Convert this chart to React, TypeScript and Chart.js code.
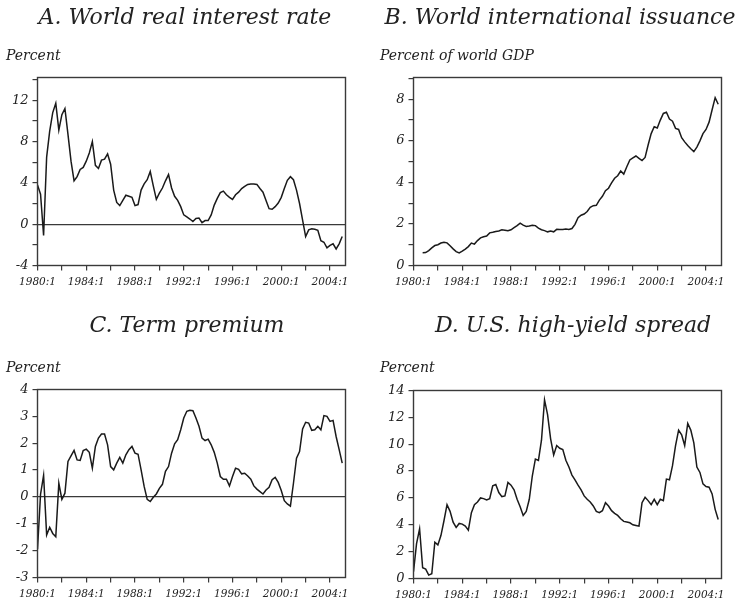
import React, { useEffect, useRef } from "react";
import { Chart, registerables } from "chart.js";

Chart.register(...registerables);

// ---- axis constants ----
const X_MIN = 1980;
const X_MAX = 2005.27;
const X_TICK_STEP = 2;
const X_LABEL_EVERY = 4;

// ---- data (quarterly, index 0 = 1980:1) ----
const realRateStart = 0;
const realRate = [
  3.8, 2.9, -1.1, 6.5, 9.0, 10.8, 11.7, 9.1, 10.6, 11.2,
  8.7, 6.1, 4.2, 4.6, 5.3, 5.5, 6.1, 6.9, 8.0, 5.7,
  5.4, 6.2, 6.3, 6.8, 5.8, 3.3, 2.1, 1.8, 2.3, 2.8,
  2.7, 2.6, 1.8, 1.9, 3.3, 3.9, 4.3, 5.1, 3.7, 2.4,
  3.0, 3.5, 4.2, 4.8, 3.5, 2.7, 2.3, 1.7, 0.9, 0.7,
  0.5, 0.25, 0.55, 0.6, 0.15, 0.35, 0.35, 0.9, 1.85, 2.5,
  3.05, 3.2, 2.85, 2.6, 2.4, 2.85, 3.1, 3.45, 3.65, 3.85,
  3.9, 3.9, 3.85, 3.45, 3.1, 2.3, 1.5, 1.45, 1.7, 2.05,
  2.6, 3.45, 4.25, 4.6, 4.3, 3.3, 2.0, 0.4, -1.2, -0.55,
  -0.45, -0.5, -0.6, -1.6, -1.75, -2.3, -2.05, -1.9, -2.4, -1.9,
  -1.2,
];

const issuanceStart = 3; // 1980:4
const issuance = [
  0.61, 0.62, 0.72, 0.85, 0.96, 1.0, 1.08, 1.12, 1.09, 0.95,
  0.8, 0.67, 0.61, 0.69, 0.79, 0.91, 1.08, 1.03, 1.2, 1.33,
  1.38, 1.42, 1.57, 1.6, 1.64, 1.66, 1.72, 1.7, 1.67, 1.72,
  1.82, 1.92, 2.04, 1.94, 1.88, 1.9, 1.94, 1.92, 1.8, 1.72,
  1.68, 1.62, 1.66, 1.62, 1.74, 1.73, 1.73, 1.76, 1.73, 1.78,
  1.98, 2.3, 2.42, 2.48, 2.6, 2.8, 2.88, 2.9, 3.15, 3.33,
  3.6, 3.72, 3.98, 4.2, 4.32, 4.55, 4.4, 4.75, 5.08, 5.18,
  5.27, 5.16, 5.05, 5.2, 5.8, 6.35, 6.68, 6.62, 7.0, 7.32,
  7.38, 7.05, 6.95, 6.6, 6.55, 6.15, 5.95, 5.78, 5.62, 5.48,
  5.7, 6.0, 6.35, 6.55, 6.9, 7.5, 8.08, 7.76,
];

const termPremiumStart = 0;
const termPremium = [
  -1.95, 0.1, 0.8, -1.42, -1.13, -1.36, -1.48, 0.51, -0.09, 0.14,
  1.32, 1.53, 1.73, 1.38, 1.36, 1.73, 1.78, 1.66, 1.07, 1.88,
  2.19, 2.34, 2.34, 1.94, 1.13, 1.01, 1.26, 1.47, 1.26, 1.57,
  1.76, 1.88, 1.63, 1.59, 1.01, 0.39, -0.09, -0.17, -0.01, 0.11,
  0.32, 0.47, 0.95, 1.13, 1.63, 1.98, 2.13, 2.5, 2.94, 3.19,
  3.23, 3.21, 2.94, 2.63, 2.19, 2.1, 2.15, 1.94, 1.66, 1.26,
  0.76, 0.66, 0.66, 0.41, 0.76, 1.07, 1.03, 0.86, 0.88, 0.78,
  0.66, 0.41, 0.29, 0.2, 0.11, 0.26, 0.36, 0.64, 0.73, 0.54,
  0.24, -0.14, -0.26, -0.34, 0.51, 1.44, 1.69, 2.53, 2.78, 2.75,
  2.48, 2.5, 2.63, 2.5, 3.03, 3.0, 2.81, 2.85, 2.25, 1.76,
  1.26,
];

const hySpreadStart = 0;
const hySpread = [
  0.5, 2.6, 3.7, 0.8, 0.7, 0.25, 0.35, 2.7, 2.5, 3.2,
  4.3, 5.5, 5.0, 4.2, 3.8, 4.1, 4.05, 3.9, 3.6, 4.9,
  5.5, 5.7, 6.0, 5.95, 5.85, 5.95, 6.9, 7.0, 6.4, 6.1,
  6.15, 7.15, 6.95, 6.6, 5.9, 5.35, 4.7, 5.0, 5.9, 7.65,
  8.9, 8.8, 10.3, 13.3, 12.2, 10.4, 9.2, 9.9, 9.7, 9.6,
  8.8, 8.3, 7.7, 7.35, 6.95, 6.6, 6.15, 5.9, 5.7, 5.4,
  5.0, 4.9, 5.05, 5.65, 5.4, 5.05, 4.85, 4.7, 4.45, 4.25,
  4.2, 4.15, 4.0, 3.95, 3.9, 5.65, 6.05, 5.8, 5.5, 5.9,
  5.5, 5.9, 5.8, 7.4, 7.35, 8.4, 9.9, 11.05, 10.7, 9.9,
  11.55, 11.05, 10.1, 8.3, 7.9, 7.05, 6.85, 6.8, 6.3, 5.15,
  4.4,
];

// ---- styling ----
const FONT = "'DejaVu Serif', serif";
const INK = "#222";
const AXIS_INK = "#3a3a3a";
const CANVAS_W = 372;
const CANVAS_H = 302;
const XAXIS_H = 30;

type Panel = {
  key: string;
  title: string;
  unit: string;
  canvasLeft: number;
  canvasTop: number;
  area: { l: number; t: number; r: number; b: number };
  values: number[];
  start: number;
  yMin: number;
  yMax: number;
  yStep: number;
  yLabelEvery: number;
  zero: boolean;
  titleX: number;
  titleTop: number;
  unitLeft: number;
  unitTop: number;
};

const panels: Panel[] = [
  {
    key: "A",
    title: "A. World real interest rate",
    unit: "Percent",
    canvasLeft: 0,
    canvasTop: 0,
    area: { l: 37.5, t: 77.5, r: 345.5, b: 265.5 },
    values: realRate,
    start: realRateStart,
    yMin: -4,
    yMax: 14.2,
    yStep: 2,
    yLabelEvery: 4,
    zero: true,
    titleX: 185,
    titleTop: 6,
    unitLeft: 6,
    unitTop: 48,
  },
  {
    key: "B",
    title: "B. World international issuance",
    unit: "Percent of world GDP",
    canvasLeft: 372,
    canvasTop: 0,
    area: { l: 413.5, t: 77.5, r: 721.5, b: 265.5 },
    values: issuance,
    start: issuanceStart,
    yMin: 0,
    yMax: 9.05,
    yStep: 1,
    yLabelEvery: 2,
    zero: false,
    titleX: 560,
    titleTop: 6,
    unitLeft: 380,
    unitTop: 48,
  },
  {
    key: "C",
    title: "C. Term premium",
    unit: "Percent",
    canvasLeft: 0,
    canvasTop: 302,
    area: { l: 37.5, t: 389.5, r: 345.5, b: 577.5 },
    values: termPremium,
    start: termPremiumStart,
    yMin: -3,
    yMax: 4,
    yStep: 1,
    yLabelEvery: 1,
    zero: true,
    titleX: 187,
    titleTop: 314,
    unitLeft: 6,
    unitTop: 360,
  },
  {
    key: "D",
    title: "D. U.S. high-yield spread",
    unit: "Percent",
    canvasLeft: 372,
    canvasTop: 302,
    area: { l: 413.5, t: 390.5, r: 721.5, b: 578.5 },
    values: hySpread,
    start: hySpreadStart,
    yMin: 0,
    yMax: 14,
    yStep: 2,
    yLabelEvery: 2,
    zero: false,
    titleX: 573,
    titleTop: 314,
    unitLeft: 380,
    unitTop: 360,
  },
];

const boxPlugin = {
  id: "plotBox",
  afterDraw(chart: any) {
    const { ctx, chartArea: a } = chart;
    ctx.save();
    ctx.strokeStyle = AXIS_INK;
    ctx.lineWidth = 1.4;
    ctx.strokeRect(a.left, a.top, a.right - a.left, a.bottom - a.top);
    ctx.restore();
  },
};

function PanelChart({ p }: { p: Panel }) {
  const ref = useRef<HTMLCanvasElement>(null);
  useEffect(() => {
    const canvas = ref.current;
    if (!canvas) return;
    const a = p.area;
    const points = p.values.map((v, i) => ({ x: X_MIN + (p.start + i) / 4, y: v }));
    const chart = new Chart(canvas, {
      type: "line",
      data: {
        datasets: [
          {
            data: points,
            borderColor: "#1a1a1a",
            borderWidth: 1.5,
            pointRadius: 0,
            tension: 0,
            fill: false,
          },
        ],
      },
      options: {
        animation: false,
        responsive: false,
        devicePixelRatio: 1,
        plugins: { legend: { display: false }, tooltip: { enabled: false } },
        layout: {
          padding: {
            left: 0,
            top: a.t - p.canvasTop,
            right: p.canvasLeft + CANVAS_W - a.r,
            bottom: p.canvasTop + CANVAS_H - a.b - XAXIS_H,
          },
        },
        scales: {
          x: {
            type: "linear",
            min: X_MIN,
            max: X_MAX,
            afterFit: (s: any) => {
              s.height = XAXIS_H;
            },
            border: { display: false },
            grid: {
              drawOnChartArea: false,
              tickLength: 5,
              tickColor: AXIS_INK,
              lineWidth: 1.2,
            },
            ticks: {
              stepSize: X_TICK_STEP,
              includeBounds: false,
              autoSkip: false,
              maxRotation: 0,
              minRotation: 0,
              padding: 5,
              color: INK,
              font: { family: FONT, size: 10.5, style: "italic" },
              callback: (v: any) =>
                (Number(v) - X_MIN) % X_LABEL_EVERY === 0 ? `${v}:1` : "",
            },
          },
          y: {
            type: "linear",
            min: p.yMin,
            max: p.yMax,
            afterFit: (s: any) => {
              s.width = a.l - p.canvasLeft;
            },
            border: { display: false },
            grid: {
              drawOnChartArea: true,
              color: (c: any) =>
                p.zero && c.tick && c.tick.value === 0 ? AXIS_INK : "rgba(0,0,0,0)",
              lineWidth: 1.2,
              tickLength: 5,
              tickColor: AXIS_INK,
            },
            ticks: {
              stepSize: p.yStep,
              includeBounds: false,
              autoSkip: false,
              padding: 4,
              color: INK,
              font: { family: FONT, size: 13, style: "italic" },
              callback: (v: any) =>
                Math.round(Number(v) - p.yMin) % p.yLabelEvery === 0 ? String(v) : "",
            },
          },
        },
      },
      plugins: [boxPlugin],
    } as any);
    return () => chart.destroy();
  }, [p]);

  return (
    <canvas
      ref={ref}
      width={CANVAS_W}
      height={CANVAS_H}
      style={{
        position: "absolute",
        left: p.canvasLeft,
        top: p.canvasTop,
        width: CANVAS_W,
        height: CANVAS_H,
      }}
    />
  );
}

export default function App() {
  return (
    <div
      style={{
        position: "absolute",
        left: 0,
        top: 0,
        width: 744,
        height: 604,
        background: "#fff",
        overflow: "hidden",
      }}
    >
      {panels.map((p) => (
        <PanelChart key={p.key} p={p} />
      ))}
      {panels.map((p) => (
        <div
          key={p.key + "-title"}
          style={{
            position: "absolute",
            left: p.titleX,
            top: p.titleTop,
            transform: "translateX(-50%)",
            fontFamily: FONT,
            fontStyle: "italic",
            fontSize: 22,
            lineHeight: "22px",
            whiteSpace: "nowrap",
            color: INK,
          }}
        >
          {p.title}
        </div>
      ))}
      {panels.map((p) => (
        <div
          key={p.key + "-unit"}
          style={{
            position: "absolute",
            left: p.unitLeft,
            top: p.unitTop,
            fontFamily: FONT,
            fontStyle: "italic",
            fontSize: 14,
            lineHeight: "14px",
            whiteSpace: "nowrap",
            color: INK,
          }}
        >
          {p.unit}
        </div>
      ))}
    </div>
  );
}
